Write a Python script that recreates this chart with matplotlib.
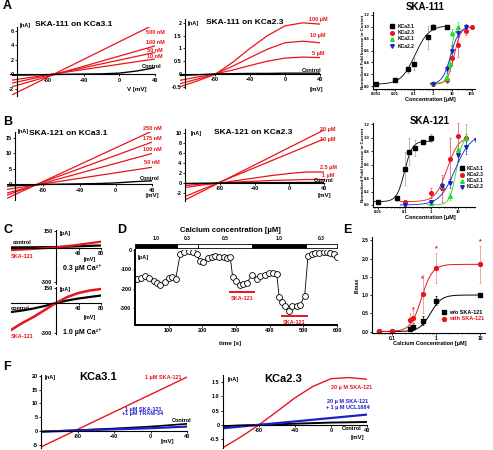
import numpy as np
import matplotlib
matplotlib.use("Agg")
import matplotlib.pyplot as plt

plt.rcParams['font.family'] = ['Liberation Sans', 'DejaVu Sans']
plt.rcParams['font.weight'] = 'bold'
plt.rcParams['axes.linewidth'] = 0.8
plt.rcParams['axes.unicode_minus'] = False

W, H = 493, 450
RED = '#e8141b'
BLUE = '#1f1fc8'
GREEN = '#22dd22'

# ---------------- data ----------------
V_lin = [-120, 40]
V_9 = [-120, -100, -80, -60, -40, -20, 0, 20, 40]
V_ctl = [-120, -80, -40, -20, 0, 20, 40]

# A1: SKA-111 on KCa3.1 (nA)
A1_labels = ['500 nM', '100 nM', '50 nM', '10 nM']
A1_lines = [[-2.8, 6.9], [-1.7, 3.9], [-1.2, 3.0], [-0.8, 2.1]]
A1_ctl = [-0.15, -0.05, 0.02, 0.05, 0.15, 0.45, 0.9]

# A2: SKA-111 on KCa2.3 (nA)
A2_labels = ['100 µM', '10 µM', '5 µM']
A2_lines = [[-0.5, -0.27, -0.02, 0.45, 1.0, 1.5, 1.88, 2.0, 1.95],
            [-0.38, -0.2, -0.01, 0.3, 0.64, 0.97, 1.22, 1.28, 1.22],
            [-0.25, -0.12, 0.0, 0.15, 0.33, 0.5, 0.62, 0.66, 0.64]]
A2_ctl = [-0.06, -0.03, 0.0, 0.01, 0.02, 0.02, 0.03, 0.03, 0.03]

# A3: SKA-111 concentration-response
A3_names = ['KCa3.1', 'KCa2.3', 'KCa2.1', 'KCa2.2']
A3_conc = [[0.001, 0.01, 0.05, 0.1, 0.5, 1, 5],
           [1, 5, 10, 20, 50, 100],
           [1, 5, 7, 10, 20],
           [1, 5, 10, 20, 50]]
A3_val = [[0.03, 0.1, 0.28, 0.37, 0.82, 1.0, 1.0],
          [0.03, 0.1, 0.47, 0.69, 0.93, 1.0],
          [0.05, 0.13, 0.38, 0.9, 1.0],
          [0.03, 0.28, 0.6, 0.9, 1.0]]
A3_err = [[0.01, 0.02, 0.06, 0.1, 0.2, 0.05, 0.03],
          [0.02, 0.05, 0.12, 0.2, 0.07, 0.03],
          [0.02, 0.05, 0.12, 0.06, 0.08],
          [0.02, 0.06, 0.1, 0.08, 0.04]]
A3_fit = [(0.11, 1.2, 0.03, 1.02), (12, 2.5, 0.03, 1.0), (8, 4, 0.05, 1.0), (8, 2, 0.03, 1.0)]

# B1: SKA-121 on KCa3.1
B1_labels = ['250 nM', '175 nM', '100 nM', '50 nM']
B1_lines = [[-4.6, 17.3], [-3.6, 13.7], [-2.9, 10.0], [-1.7, 5.5]]
B1_ctl = [-0.6, -0.1, 0.1, 0.2, 0.4, 0.8, 1.1]

# B2: SKA-121 on KCa2.3
B2_labels = ['20 µM', '10 µM', '2.5 µM', '1 µM']
B2_lin = [[-3.4, 10.6], [-2.7, 8.8]]
B2_curv = [[-0.9, -0.4, 0.0, 0.5, 1.0, 1.5, 1.9, 2.2, 2.2],
           [-0.5, -0.2, 0.0, 0.2, 0.35, 0.5, 0.6, 0.7, 0.7]]
B2_ctl = [-0.1, -0.05, 0.0, 0.02, 0.04, 0.06, 0.08, 0.1, 0.1]

# B3: SKA-121 concentration-response
B3_conc = [[0.01, 0.05, 0.1, 0.15, 0.25, 0.5, 1],
           [0.1, 1, 2.5, 5, 10, 20],
           [1, 2.5, 5, 10, 20],
           [0.1, 1, 2.5, 5, 10, 20, 50]]
B3_val = [[0.05, 0.1, 0.54, 0.79, 0.85, 0.93, 1.0],
          [0.05, 0.18, 0.25, 0.69, 1.02, 1.0],
          [0.03, 0.28, 0.13, 0.82, 1.0],
          [0.0, 0.04, 0.28, 0.32, 0.75, 0.86, 0.97]]
B3_err = [[0.01, 0.04, 0.25, 0.2, 0.12, 0.02, 0.06],
          [0.01, 0.08, 0.2, 0.3, 0.2, 0.05],
          [0.02, 0.05, 0.05, 0.1, 0.2],
          [0.01, 0.03, 0.05, 0.06, 0.1, 0.1, 0.03]]
B3_fit = [(0.1, 3, 0.05, 0.95), (4, 2, 0.05, 1.02), (9, 3.5, 0.0, 1.05), (8, 1.5, 0.0, 1.05)]

# C: whole-cell currents (pA)
C_V = [-80, -40, 0, 40, 80]
C1_ctl = [5, 6, 8, 15, 22]
C1_ska = [-18, -8, 5, 28, 55]
C_V9 = [-80, -60, -40, -20, 0, 20, 40, 60, 80]
C2_ctl = [-90, -75, -55, -30, 0, 25, 45, 60, 75]
C2_ska = [-270, -200, -140, -70, 0, 60, 100, 125, 140]

# D: time course
D_t = [5, 18, 30, 42, 55, 65, 75, 88, 100, 110, 121, 134, 146, 159, 171, 183, 193, 203, 216, 228,
       238, 250, 263, 273, 283, 290, 300, 312, 322, 332, 347, 362, 372, 385, 397, 409, 421, 428, 436, 446,
       456, 466, 481, 491, 504, 514, 526, 536, 547, 560, 570, 580, 590, 600]
D_I = [-147, -144, -134, -144, -160, -168, -182, -165, -144, -139, -147, -22, -9, -5, -9, -22, -57, -61, -40, -35,
       -29, -35, -35, -40, -35, -139, -161, -178, -173, -168, -130, -147, -134, -127, -118, -118, -121, -239, -269, -286,
       -312, -289, -286, -282, -234, -29, -22, -17, -17, -12, -12, -17, -22, -35]
D_seg_start = [0, 124, 188, 349, 508]
D_seg_len = [124, 64, 161, 159, 92]
D_seg_lab = ['1.0', '0.3', '0.5', '1.0', '0.3']
D_seg_black = [True, False, False, True, False]
D_ska = [(283, 352), (436, 511)]
D_ska_y = [-217, -341]

# E
E_conc = [0.05, 0.1, 0.25, 0.3, 0.5, 1, 10]
E_wo = [0.0, 0.0, 0.07, 0.13, 0.3, 0.84, 1.0]
E_wo_err = [0.01, 0.01, 0.05, 0.1, 0.13, 0.12, 0.03]
E_with = [0.01, 0.01, 0.32, 0.36, 1.03, 1.75, 1.84]
E_with_err = [0.01, 0.01, 0.18, 0.22, 0.52, 0.41, 0.5]
E_star_c = [0.3, 0.5, 1, 10]
E_star_y = [0.61, 1.45, 2.27, 2.47]
E_fit_wo = (0.75, 3.5, 0.0, 1.0)
E_fit_with = (0.47, 3.5, 0.0, 1.84)

# F
F1_red = [-5.8, 19.6]
F1_V = [-120, -80, -40, 0, 40]
F1_blue = [-0.3, 0.2, 0.6, 1.0, 1.6]
F1_ctl = [-0.2, 0.3, 0.9, 1.6, 2.6]
F2_red = [-0.8, -0.42, 0.0, 0.47, 0.95, 1.35, 1.62, 1.66, 1.6]
F2_blue = [-0.12, -0.06, 0.0, 0.06, 0.12, 0.18, 0.24, 0.3, 0.36]
F2_ctl = [-0.05, -0.02, 0.0, 0.02, 0.04, 0.06, 0.08, 0.09, 0.1]

# ---------------- helpers ----------------
fig = plt.figure(figsize=(W / 100, H / 100), dpi=100)


def pax(l, t, w, h):
    ax = fig.add_axes([l / W, 1 - (t + h) / H, w / W, h / H])
    ax.patch.set_alpha(0)
    return ax


def ftxt(x, y, s, size=4, color='k', ha='center', va='center', weight='bold', **kw):
    fig.text(x / W, 1 - y / H, s, fontsize=size, color=color, ha=ha, va=va, fontweight=weight, **kw)


def fmark(x, y, marker, color, ms):
    fig.lines.append(plt.Line2D([x / W], [1 - y / H], marker=marker, color=color, ms=ms,
                                transform=fig.transFigure, figure=fig))


def style(ax, labelsize=4):
    ax.tick_params(labelsize=labelsize, length=1.5, width=0.6, pad=1)
    for lab in ax.get_xticklabels() + ax.get_yticklabels():
        lab.set_fontweight('bold')


def iv_axes(l, t, w, h, xlim, ylim, yticks, ytl=None, spine_x=None):
    ax = pax(l, t, w, h)
    ax.set_xlim(xlim)
    ax.set_ylim(ylim)
    for s in ['top', 'right']:
        ax.spines[s].set_visible(False)
    ax.spines['bottom'].set_position(('data', 0))
    if spine_x is not None:
        ax.spines['left'].set_position(('data', spine_x))
    ax.set_xticks([-80, -40, 0, 40])
    ax.set_yticks(yticks)
    if ytl is not None:
        ax.set_yticklabels(ytl)
    style(ax)
    return ax


def hill(c, p):
    ec50, n, bot, top = p
    return bot + (top - bot) / (1 + (ec50 / c) ** n)


# ---------------- Panel A1 ----------------
ax = iv_axes(10, 27, 145, 69, (-123, 40), (-3, 6.5), [-2, 0, 2, 4, 6], spine_x=-115)
for y in A1_lines:
    ax.plot(V_lin, y, color=RED, lw=0.9)
ax.plot(V_ctl, A1_ctl, color='k', lw=1.0)
ftxt(3, 6, 'A', size=9, ha='left')
ftxt(74, 25, 'SKA-111 on KCa3.1', size=6)
ftxt(20, 25, '[nA]', size=4, ha='left')
ftxt(137, 90, 'V [mV]', size=4.5)
for lab, yy in zip(A1_labels, [32, 43, 50, 57]):
    ftxt(155, yy, lab, size=4, color=RED)
ftxt(152, 67, 'Control', size=4)

# ---------------- Panel A2 ----------------
ax = iv_axes(180, 19, 140, 69, (-120, 40), (-0.55, 2.15), [-0.5, 0, 0.5, 1, 1.5, 2],
             ['-0.5', '0', '0.5', '1', '1.5', '2'], spine_x=-114)
for y in A2_lines:
    ax.plot(V_9, y, color=RED, lw=0.9)
ax.plot(V_9, A2_ctl, color='k', lw=1.0)
ftxt(245, 23, 'SKA-111 on KCa2.3', size=6)
ftxt(188, 23, '[nA]', size=4, ha='left')
ftxt(316, 89, '[mV]', size=4.5)
for lab, yy in zip(A2_labels, [20, 36, 54]):
    ftxt(318, yy, lab, size=4, color=RED)
ftxt(312, 71, 'Control', size=4)

# ---------------- Panel A3 / B3 ----------------
markers = ['s', 'o', '^', 'v']
colors = ['k', RED, GREEN, BLUE]


def dose_axes(l, t, w, h, xlim, ylim, xticks, xtl):
    ax = pax(l, t, w, h)
    ax.set_xscale('log')
    ax.set_xlim(xlim)
    ax.set_ylim(ylim)
    for s in ['top', 'right']:
        ax.spines[s].set_visible(False)
    ax.set_xticks(xticks)
    ax.set_xticklabels(xtl)
    ax.set_yticks([0, 0.2, 0.4, 0.6, 0.8, 1.0, 1.2])
    ax.set_yticklabels(['0.0', '0.2', '0.4', '0.6', '0.8', '1.0', '1.2'])
    ax.tick_params(which='minor', length=0.8, width=0.4)
    style(ax, labelsize=3)
    return ax


def dose_plot(ax, conc, val, err, fit):
    for i in range(4):
        cc = np.logspace(np.log10(min(conc[i]) * 0.7), np.log10(max(conc[i]) * 1.1), 200)
        ax.plot(cc, hill(cc, fit[i]), color=colors[i], lw=0.6)
        ax.errorbar(conc[i], val[i], yerr=err[i], fmt=markers[i], color=colors[i],
                    ms=2.6, elinewidth=0.4, capsize=0.8, capthick=0.4,
                    ecolor='#888888' if i == 0 else colors[i])


ax = dose_axes(373, 12, 102, 77, (0.0007, 150), (-0.05, 1.25),
               [0.001, 0.01, 0.1, 1, 10, 100], ['0.001', '0.01', '0.1', '1', '10', '100'])
dose_plot(ax, A3_conc, A3_val, A3_err, A3_fit)
ftxt(425, 7, 'SKA-111', size=7)
ftxt(430, 99, 'Concentration [µM]', size=4)
ftxt(363, 52, 'Normalized Fold Increase in Current', size=3.2, rotation=90)
for i, yy in enumerate([26, 33, 39, 46]):
    fmark(392, yy, markers[i], colors[i], 2.6)
    ftxt(398, yy, A3_names[i], size=3.5, ha='left')

ax = dose_axes(373, 123, 102, 84, (0.0065, 45), (-0.03, 1.22),
               [0.01, 0.1, 1, 10], ['0.01', '0.1', '1', '10'])
dose_plot(ax, B3_conc, B3_val, B3_err, B3_fit)
ftxt(430, 121, 'SKA-121', size=7)
ftxt(430, 218, 'Concentration [µM]', size=4)
ftxt(363, 165, 'Normalized Fold Increase in Current', size=3.2, rotation=90)
for i, yy in enumerate([168, 175, 181, 187]):
    fmark(462, yy, markers[i], colors[i], 2.6)
    ftxt(467, yy, A3_names[i], size=3.5, ha='left')

# ---------------- Panel B1 ----------------
ax = iv_axes(7, 132, 145, 67.5, (-120, 40), (-5, 17), [0, 5, 10, 15], spine_x=-111)
for y in B1_lines:
    ax.plot(V_lin, y, color=RED, lw=0.9)
ax.plot(V_ctl, B1_ctl, color='k', lw=1.0)
ftxt(3, 122, 'B', size=9, ha='left')
ftxt(68, 134, 'SKA-121 on KCa3.1', size=6)
ftxt(18, 131, '[nA]', size=4, ha='left')
ftxt(152, 196, '[mV]', size=4.5)
for lab, yy in zip(B1_labels, [128, 138, 150, 163]):
    ftxt(152, yy, lab, size=4, color=RED)
ftxt(150, 178, 'Control', size=4)

# ---------------- Panel B2 ----------------
ax = iv_axes(185, 129, 139, 71.5, (-120, 40), (-3.5, 10.8), [-2, 0, 2, 4, 6, 8, 10])
for y in B2_lin:
    ax.plot(V_lin, y, color=RED, lw=0.9)
for y in B2_curv:
    ax.plot(V_9, y, color=RED, lw=0.9)
ax.plot(V_9, B2_ctl, color='k', lw=1.0)
ftxt(253, 133, 'SKA-121 on KCa2.3', size=6)
ftxt(191, 133, '[nA]', size=4, ha='left')
ftxt(324, 196, '[mV]', size=4.5)
for lab, yy in zip(B2_labels, [129, 139, 168, 175]):
    ftxt(328, yy, lab, size=4, color=RED)
ftxt(324, 181, 'Control', size=4)


# ---------------- Panel C ----------------
def c_axes(t, h, ylim):
    ax = pax(11, t, 90, h)
    ax.set_xlim(-80, 80)
    ax.set_ylim(ylim)
    for s in ['top', 'right']:
        ax.spines[s].set_visible(False)
    ax.spines['left'].set_position(('data', 0))
    ax.spines['bottom'].set_position(('data', 0))
    ax.set_xticks([40, 80])
    ax.set_yticks([-300, 150])
    style(ax)
    return ax


ax = c_axes(229.6, 54, (-310, 160))
ax.plot(C_V, C1_ctl, color='k', lw=1.6)
ax.plot(C_V, C1_ska, color=RED, lw=1.6)
ftxt(3, 230, 'C', size=9, ha='left')
ftxt(22, 242, 'control', size=4)
ftxt(22, 256, 'SKA-121', size=4, color=RED)
ftxt(60, 233, '[pA]', size=4, ha='left')
ftxt(90, 259, '[mV]', size=4)
ftxt(82, 268, '0.3 µM Ca²⁺', size=5)

ax = c_axes(286.5, 47.5, (-310, 165))
ax.plot(C_V9, C2_ctl, color='k', lw=1.6)
ax.plot(C_V9, C2_ska, color=RED, lw=1.8)
ftxt(20, 309, 'control', size=4)
ftxt(22, 336, 'SKA-121', size=4, color=RED)
ftxt(60, 289, '[pA]', size=4, ha='left')
ftxt(90, 318, '[mV]', size=4)
ftxt(82, 332, '1.0 µM Ca²⁺', size=5)

# ---------------- Panel D ----------------
ax = pax(135, 250, 202, 75)
ax.set_xlim(0, 600)
ax.set_ylim(-385, 0)
for s in ['top', 'right']:
    ax.spines[s].set_visible(False)
ax.spines['left'].set_linewidth(1.4)
ax.spines['bottom'].set_linewidth(1.4)
ax.set_xticks([100, 200, 300, 400, 500, 600])
ax.set_yticks([-300, -200, -100, 0])
style(ax)
ax.plot(D_t, D_I, color='k', lw=0.6, marker='o', mfc='white', mec='k', ms=4.2, mew=0.6)
for (a, b), yv in zip(D_ska, D_ska_y):
    ax.plot([a, b], [yv, yv], color=RED, lw=1.4, clip_on=False)
    ax.text((a + b) / 2, yv - 33, 'SKA-121', color=RED, fontsize=4, ha='center', va='center',
            fontweight='bold')
ftxt(117, 230, 'D', size=9, ha='left')
ftxt(230, 231, 'Calcium concentration [µM]', size=5.5)
ftxt(138, 258, '[pA]', size=4, ha='left')
ftxt(230, 343, 'time [s]', size=4.5)

bx = pax(135, 244, 202, 4.5)
bx.set_xlim(0, 600)
bx.set_ylim(0, 1)
bx.axis('off')
for s0, ln, lab, blk in zip(D_seg_start, D_seg_len, D_seg_lab, D_seg_black):
    bx.broken_barh([(s0, ln)], (0, 1), facecolors='k' if blk else 'white', edgecolor='k', linewidth=0.6)
    bx.text(s0 + ln / 2, 1.6, lab, fontsize=3.5, ha='center', va='bottom', fontweight='bold')

# ---------------- Panel E ----------------
ax = pax(372, 236.6, 113, 96.4)
ax.set_xscale('log')
ax.set_xlim(0.0351, 13)
ax.set_ylim(-0.04, 2.6)
for s in ['top', 'right']:
    ax.spines[s].set_visible(False)
ax.set_xticks([0.1, 1, 10])
ax.set_xticklabels(['0.1', '1', '10'])
ax.set_yticks([0, 0.5, 1.0, 1.5, 2.0, 2.5])
ax.set_yticklabels(['0.0', '0.5', '1.0', '1.5', '2.0', '2.5'])
ax.tick_params(which='minor', length=0.8, width=0.4)
style(ax, labelsize=3.5)
cc = np.logspace(np.log10(0.05), np.log10(10), 300)
ax.plot(cc, hill(cc, E_fit_wo), color='k', lw=0.7)
ax.plot(cc, hill(cc, E_fit_with), color=RED, lw=0.7)
ax.errorbar(E_conc, E_wo, yerr=E_wo_err, fmt='s', color='k', ms=2.6, elinewidth=0.5, capsize=1, capthick=0.5)
ax.errorbar(E_conc, E_with, yerr=E_with_err, fmt='o', color=RED, ms=2.8, elinewidth=0.5, capsize=1,
            capthick=0.5, ecolor='#f08080')
for c, y in zip(E_star_c, E_star_y):
    ax.text(c, y, '*', color=RED, fontsize=5, ha='center', va='center')
ftxt(343, 230, 'E', size=9, ha='left')
ftxt(430, 343, 'Calcium Concentration [µM]', size=4)
ftxt(357, 285, 'I/Imax', size=4, rotation=90)
fmark(444, 312, 's', 'k', 2.6)
fmark(444, 319, 'o', RED, 2.8)
ftxt(449, 312, 'w/o SKA-121', size=4, ha='left')
ftxt(449, 319, 'with SKA-121', size=4, ha='left', color=RED)

# ---------------- Panel F ----------------
ax = iv_axes(41, 374.6, 146, 73.7, (-120, 40), (-6.3, 20.5), [-5, 0, 5, 10, 15, 20])
ax.plot(V_lin, F1_red, color=RED, lw=1.0)
ax.plot(F1_V, F1_ctl, color='k', lw=1.2)
ax.plot(F1_V, F1_blue, color=BLUE, lw=1.6)
ftxt(3, 367, 'F', size=9, ha='left')
ftxt(98, 377, 'KCa3.1', size=8)
ftxt(45, 377, '[nA]', size=4, ha='left')
ftxt(163, 378, '1 µM SKA-121', size=4, color=RED)
ftxt(143, 409, '1 µM SKA-121', size=4, color=BLUE)
ftxt(143, 414, '+1 µM TRAM-34', size=4, color=BLUE)
ftxt(182, 420, 'Control', size=4)
ftxt(167, 441, '[mV]', size=4.5)

ax = iv_axes(223, 375, 144, 73.2, (-120, 40), (-0.82, 1.75), [-0.5, 0, 0.5, 1.0, 1.5],
             ['-0.5', '0', '0.5', '1.0', '1.5'])
ax.plot(V_9, F2_red, color=RED, lw=1.0)
ax.plot(V_9, F2_ctl, color='k', lw=1.4)
ax.plot(V_9, F2_blue, color=BLUE, lw=1.6)
ftxt(283, 379, 'KCa2.3', size=8)
ftxt(228, 380, '[nA]', size=4, ha='left')
ftxt(352, 387, '20 µ M SKA-121', size=4, color=RED)
ftxt(348, 402, '20 µ M SKA-121', size=4, color=BLUE)
ftxt(348, 408, '+ 1 µ M UCL1684', size=4, color=BLUE)
ftxt(352, 428, 'Control', size=4)
ftxt(357, 438, '[mV]', size=4.5)

fig.savefig('out.png', dpi=100)
